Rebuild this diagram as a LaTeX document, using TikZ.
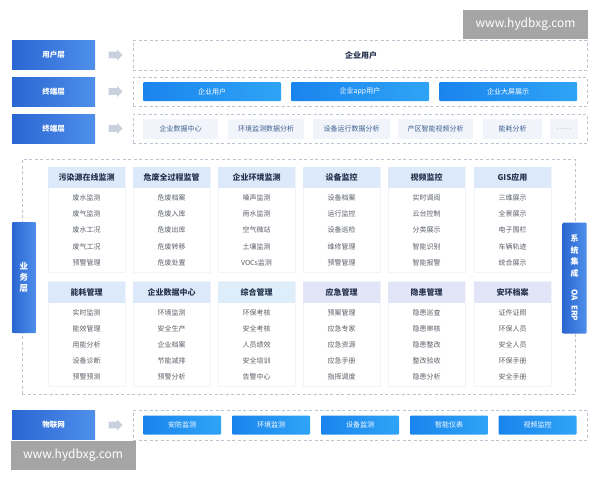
\documentclass[tikz,border=0pt]{standalone}
\usepackage{fontspec}
\usepackage{graphicx}
\setmainfont{Noto Sans CJK SC}
\usetikzlibrary{shapes.arrows}
\definecolor{lblL}{HTML}{2A66D2}
\definecolor{lblR}{HTML}{4E8FEA}
\definecolor{btnL}{HTML}{1A84EE}
\definecolor{btnR}{HTML}{2FA4F6}
\definecolor{dashc}{HTML}{BCC6D3}
\definecolor{arrowc}{HTML}{C9D1DC}
\definecolor{lightbg}{HTML}{F1F5FB}
\definecolor{lighttx}{HTML}{3E5E8E}
\definecolor{hdrA}{HTML}{DCE9FB}
\definecolor{hdrB}{HTML}{DDEDF9}
\definecolor{hdrC}{HTML}{E2E5F8}
\definecolor{hdrtx}{HTML}{26344E}
\definecolor{itemtx}{HTML}{5A5F68}
\definecolor{cardln}{HTML}{F0F3F8}
\definecolor{wmgray}{HTML}{A5A5A5}
\tikzset{
  layerlbl/.style={rectangle, left color=lblL, right color=lblR, draw=none,
    minimum width=83pt, minimum height=29pt, inner sep=0pt, text=white,
    font=\fontsize{7.5}{9}\selectfont\bfseries},
  grayarrow/.style={single arrow, fill=arrowc, draw=none, minimum height=14pt,
    minimum width=11pt, single arrow head extend=2pt, inner xsep=0pt,
    inner ysep=3pt, text height=0pt, text depth=0pt},
  dashbox/.style={rectangle, draw=dashc, dashed, dash pattern=on 3pt off 2.5pt,
    fill=white, inner sep=0pt},
  bluebtn/.style={rectangle, rounded corners=1pt, left color=btnL, right color=btnR,
    draw=none, minimum height=19pt, inner sep=0pt, text=white,
    font=\fontsize{7}{8}\selectfont},
  lightbtn/.style={rectangle, fill=lightbg, draw=none, minimum height=20pt,
    inner sep=0pt, text=lighttx, font=\fontsize{7}{8}\selectfont},
  hdrbox/.style={rectangle, draw=none, minimum width=77pt, minimum height=21pt,
    inner sep=0pt, text=hdrtx, font=\fontsize{8}{9}\selectfont\bfseries},
  cardbox/.style={rectangle, fill=white, draw=cardln, minimum width=77pt, inner sep=0pt},
  itemtxt/.style={text=itemtx, inner sep=0pt, font=\fontsize{7}{8}\selectfont},
  vtab/.style={rectangle, rounded corners=1pt, left color=lblL, right color=lblR,
    draw=none, minimum width=24pt, minimum height=111pt, inner sep=0pt, text=white,
    font=\fontsize{8.5}{11}\selectfont\bfseries, align=center},
  watermark/.style={rectangle, fill=wmgray, draw=none, inner sep=0pt, text=white,
    minimum width=125pt, minimum height=29pt, font=\fontsize{12}{14}\selectfont}
}
\begin{document}
\begin{tikzpicture}[x=1pt,y=-1pt]
\useasboundingbox (0,0) rectangle (600,480);
\fill[white] (0,0) rectangle (600,480);

% layer labels and arrows
\node[layerlbl] (L1) at (53.5,55) {用户层};
\node[layerlbl] (L2) at (53.5,91.5) {终端层};
\node[layerlbl] (L3) at (53.5,128.5) {终端层};
\node[layerlbl] (L4) at (53.5,425) {物联网};
\node[grayarrow] (A1) at (114,55) {};
\node[grayarrow] (A2) at (114,91.5) {};
\node[grayarrow] (A3) at (114,128.5) {};
\node[grayarrow] (A4) at (114,425) {};

% row containers
\node[dashbox, minimum width=454pt, minimum height=30pt] (R1) at (360,55) {};
\node[dashbox, minimum width=454pt, minimum height=29pt] (R2) at (360,91.5) {};
\node[dashbox, minimum width=454pt, minimum height=29pt] (R3) at (360,128.5) {};
\node[dashbox, minimum width=454pt, minimum height=30pt] (R4) at (360,425) {};

\node[text=hdrtx, font=\fontsize{8}{9}\selectfont\bfseries] (U1) at (361,55) {企业用户};

\node[bluebtn, minimum width=138pt] (T1) at (212,91.5) {企业用户};
\node[bluebtn, minimum width=138pt] (T2) at (360,91.5) {企业app用户};
\node[bluebtn, minimum width=138pt] (T3) at (508,91.5) {企业大屏展示};

\node[lightbtn, minimum width=75pt] (S1) at (180.5,129) {企业数据中心};
\node[lightbtn, minimum width=76pt] (S2) at (266,129) {环境监测数据分析};
\node[lightbtn, minimum width=77pt] (S3) at (351.5,129) {设备运行数据分析};
\node[lightbtn, minimum width=75pt] (S4) at (435.5,129) {产区智能视频分析};
\node[lightbtn, minimum width=59pt] (S5) at (512.5,129) {能耗分析};
\node[lightbtn, minimum width=28pt, text=itemtx!60] (S6) at (564,129) {……};

% bottom IoT buttons
\node[bluebtn, minimum width=78pt] (B1) at (182,425) {安防监测};
\node[bluebtn, minimum width=78pt] (B2) at (271,425) {环境监测};
\node[bluebtn, minimum width=78pt] (B3) at (360,425) {设备监测};
\node[bluebtn, minimum width=78pt] (B4) at (449,425) {智能仪表};
\node[bluebtn, minimum width=78pt] (B5) at (537.5,425) {视频监控};

% business area
\node[dashbox, minimum width=553pt, minimum height=235pt] (BZ) at (298.5,276.5) {};

% module cards row 1
\foreach \i/\cx/\h/\a/\b/\c/\d/\e in {
  1/86.5/污染源在线监测/废水监测/废气监测/废水工况/废气工况/预警管理,
  2/171.5/危废全过程监管/危废档案/危废入库/危废出库/危废转移/危废处置,
  3/256.5/企业环境监测/噪声监测/雨水监测/空气微站/土壤监测/VOCs监测,
  4/341.5/设备监控/设备档案/运行监控/设备巡检/维修管理/预警管理,
  5/426.5/视频监控/实时调阅/云台控制/分类展示/智能识别/智能报警,
  6/512.5/GIS应用/三维展示/全景展示/电子围栏/车辆轨迹/统合展示}{
  \node[cardbox, minimum height=105pt] (C\i) at (\cx,219.5) {};
  \node[hdrbox, fill=hdrA] (H\i) at (\cx,177.5) {\h};
  \node[itemtxt] (I\i a) at (\cx,198) {\a};
  \node[itemtxt] (I\i b) at (\cx,214) {\b};
  \node[itemtxt] (I\i c) at (\cx,230) {\c};
  \node[itemtxt] (I\i d) at (\cx,246.5) {\d};
  \node[itemtxt] (I\i e) at (\cx,263) {\e};
}
% module cards row 2
\foreach \i/\cx/\col/\h/\a/\b/\c/\d/\e in {
  7/86.5/hdrA/能耗管理/实时监测/能效管理/用能分析/设备诊断/预警预测,
  8/171.5/hdrA/企业数据中心/环境监测/安全生产/企业档案/节能减排/预警分析,
  9/256.5/hdrB/综合管理/环保考核/安全考核/人员绩效/安全培训/告警中心,
  10/341.5/hdrC/应急管理/预案管理/应急专家/应急资源/应急手册/指挥调度,
  11/426.5/hdrC/隐患管理/隐患巡查/隐患审核/隐患整改/整改验收/隐患分析,
  12/512.5/hdrC/安环档案/证件证照/环保人员/安全人员/环保手册/安全手册}{
  \node[cardbox, minimum height=105pt] (C\i) at (\cx,334) {};
  \node[hdrbox, fill=\col] (H\i) at (\cx,292) {\h};
  \node[itemtxt] (I\i a) at (\cx,313) {\a};
  \node[itemtxt] (I\i b) at (\cx,329) {\b};
  \node[itemtxt] (I\i c) at (\cx,345) {\c};
  \node[itemtxt] (I\i d) at (\cx,361) {\d};
  \node[itemtxt] (I\i e) at (\cx,377) {\e};
}

% side tabs
\node[vtab] (VL) at (24,277.5) {业\\务\\层};
\node[vtab, font=\fontsize{8}{11.5}\selectfont\bfseries] (VR) at (574.5,278)
  {系\\统\\集\\成\\[2pt]\rotatebox{-90}{OA\enspace ERP}};

% watermarks
\node[watermark] (W1) at (525.5,24.5) {www.hydbxg.com};
\node[watermark] (W2) at (73,455) {www.hydbxg.com};
\end{tikzpicture}
\end{document}
